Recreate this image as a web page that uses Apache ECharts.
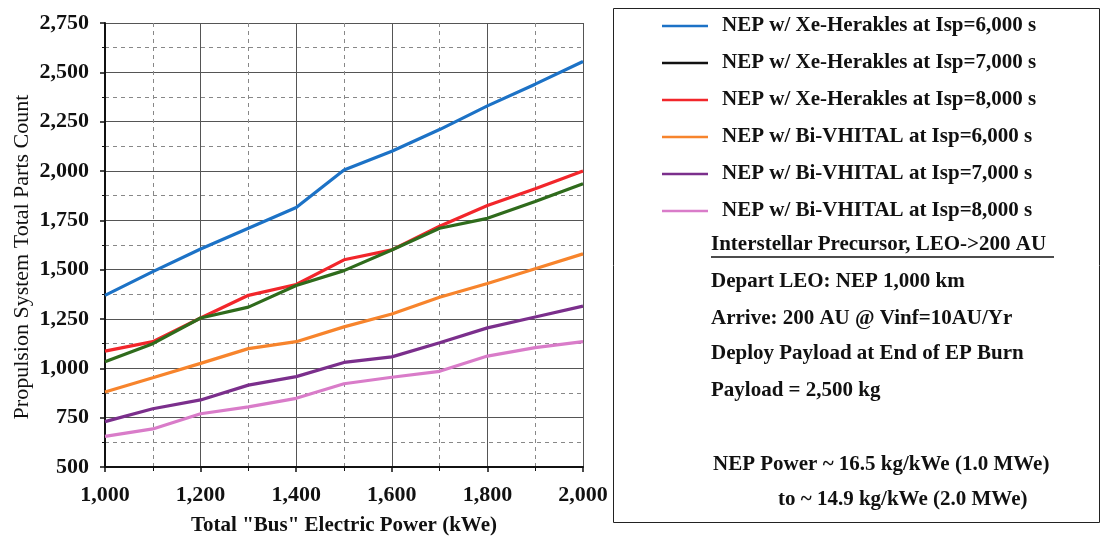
<!DOCTYPE html>
<html><head><meta charset="utf-8">
<script src="https://cdn.jsdelivr.net/npm/echarts@6/dist/echarts.min.js"></script>
<style>html,body{margin:0;padding:0;background:#fff}#c{width:1102px;height:537px}</style>
</head><body><div id="c"></div>
<script>
const power = [1000, 1100, 1200, 1300, 1400, 1500, 1600, 1700, 1800, 1900, 2000];
const xeIsp6000 = [1370, 1490, 1605, 1710, 1815, 2005, 2100, 2210, 2330, 2440, 2555];
const xeIsp7000 = [1033, 1125, 1255, 1310, 1420, 1495, 1600, 1710, 1760, 1845, 1935];
const xeIsp8000 = [1087, 1135, 1255, 1370, 1425, 1550, 1600, 1720, 1825, 1910, 2000];
const biIsp6000 = [880, 952, 1025, 1100, 1135, 1210, 1275, 1360, 1430, 1505, 1580];
const biIsp7000 = [730, 795, 840, 915, 958, 1030, 1058, 1130, 1205, 1260, 1315];
const biIsp8000 = [655, 693, 770, 805, 848, 922, 955, 985, 1062, 1105, 1135];
const seriesNames = [
  'NEP w/ Xe-Herakles at Isp=6,000 s',
  'NEP w/ Xe-Herakles at Isp=7,000 s',
  'NEP w/ Xe-Herakles at Isp=8,000 s',
  'NEP w/ Bi-VHITAL at Isp=6,000 s',
  'NEP w/ Bi-VHITAL at Isp=7,000 s',
  'NEP w/ Bi-VHITAL at Isp=8,000 s'
];
const noteLines = [
  'Interstellar Precursor, LEO->200 AU',
  'Depart LEO: NEP 1,000 km',
  'Arrive: 200 AU @ Vinf=10AU/Yr',
  'Deploy Payload at End of EP Burn',
  'Payload = 2,500 kg',
  'NEP Power ~ 16.5 kg/kWe (1.0 MWe)',
  'to ~ 14.9 kg/kWe (2.0 MWe)'
];
const allData = [xeIsp6000, xeIsp7000, xeIsp8000, biIsp6000, biIsp7000, biIsp8000];
const colors = ['#1c72c6', '#2f6b1c', '#f2262b', '#f7842c', '#7b2f8c', '#d97cc9'];
const legendIconColors = ['#1c72c6', '#111111', '#f2262b', '#f7842c', '#7b2f8c', '#d97cc9'];

const FONT = '"Liberation Serif", "DejaVu Serif", serif';
const fmt = v => v.toLocaleString('en-US');

const chart = echarts.init(document.getElementById('c'), null, {renderer: 'canvas'});
const series = allData.map((d, i) => ({
  name: seriesNames[i],
  type: 'line',
  data: power.map((p, j) => [p, d[j]]),
  symbol: 'none',
  lineStyle: {color: colors[i], width: 3.2},
  itemStyle: {color: colors[i]},
  z: 10 - i
}));

const noteY = [245, 282, 319, 354, 391, 465, 500];
const noteX = [711, 711, 711, 711, 711, 713, 778];
const graphics = [
  {type: 'rect', shape: {x: 613.5, y: 8.5, width: 486, height: 514}, style: {fill: 'none', stroke: '#222', lineWidth: 1}, z: 0}
];
noteLines.forEach((t, i) => {
  graphics.push({type: 'text', x: noteX[i], y: noteY[i],
    style: {text: t, font: 'bold 21px ' + FONT, fill: '#111', verticalAlign: 'middle', align: 'left'}});
});
graphics.push({type: 'line', shape: {x1: 711, y1: 257, x2: 1054, y2: 257}, style: {stroke: '#111', lineWidth: 1.3}});

chart.setOption({
  animation: false,
  backgroundColor: '#fff',
  grid: {left: 105, right: 519, top: 23, bottom: 70, show: false, containLabel: false, outerBoundsMode: 'none'},
  legend: {
    orient: 'vertical', left: 662, top: 15.5, itemGap: 16, padding: 0,
    itemWidth: 46, itemHeight: 10,
    icon: 'path://M0,4 L46,4 L46,6.5 L0,6.5 Z',
    textStyle: {fontFamily: FONT, fontWeight: 'bold', fontSize: 21, lineHeight: 21, color: '#111', padding: [0, 0, 0, 9]},
    data: seriesNames.map((n, i) => ({name: n, itemStyle: {color: legendIconColors[i]}}))
  },
  xAxis: {
    type: 'value', min: 1000, max: 2000, interval: 200,
    name: 'Total "Bus" Electric Power (kWe)', nameLocation: 'middle', nameGap: 48,
    nameTextStyle: {fontFamily: FONT, fontWeight: 'bold', fontSize: 21, color: '#111'},
    axisLine: {show: true, onZero: false, lineStyle: {color: '#111', width: 2}},
    axisTick: {show: true, length: 5, lineStyle: {color: '#111', width: 1.5}},
    minorTick: {show: true, splitNumber: 2, length: 4, lineStyle: {color: '#111'}},
    axisLabel: {formatter: fmt, fontFamily: FONT, fontWeight: 'bold', fontSize: 22, color: '#111', margin: 17},
    splitLine: {show: true, lineStyle: {color: '#555', width: 1}},
    minorSplitLine: {show: true, lineStyle: {color: '#888', width: 1, type: [4, 4]}}
  },
  yAxis: {
    type: 'value', min: 500, max: 2750, interval: 250,
    name: 'Propulsion System Total Parts Count', nameLocation: 'middle', nameGap: 72,
    nameTextStyle: {fontFamily: FONT, fontSize: 22, color: '#111', padding: [0, 24, 0, 0]},
    axisLine: {show: true, onZero: false, lineStyle: {color: '#111', width: 2}},
    axisTick: {show: true, length: 5, lineStyle: {color: '#111', width: 1.5}},
    minorTick: {show: true, splitNumber: 2, length: 3, lineStyle: {color: '#111'}},
    axisLabel: {formatter: fmt, fontFamily: FONT, fontWeight: 'bold', fontSize: 22, color: '#111', margin: 16},
    splitLine: {show: true, lineStyle: {color: '#555', width: 1}},
    minorSplitLine: {show: true, lineStyle: {color: '#888', width: 1, type: [4, 4]}}
  },
  graphic: graphics,
  series: series
});
</script></body></html>
